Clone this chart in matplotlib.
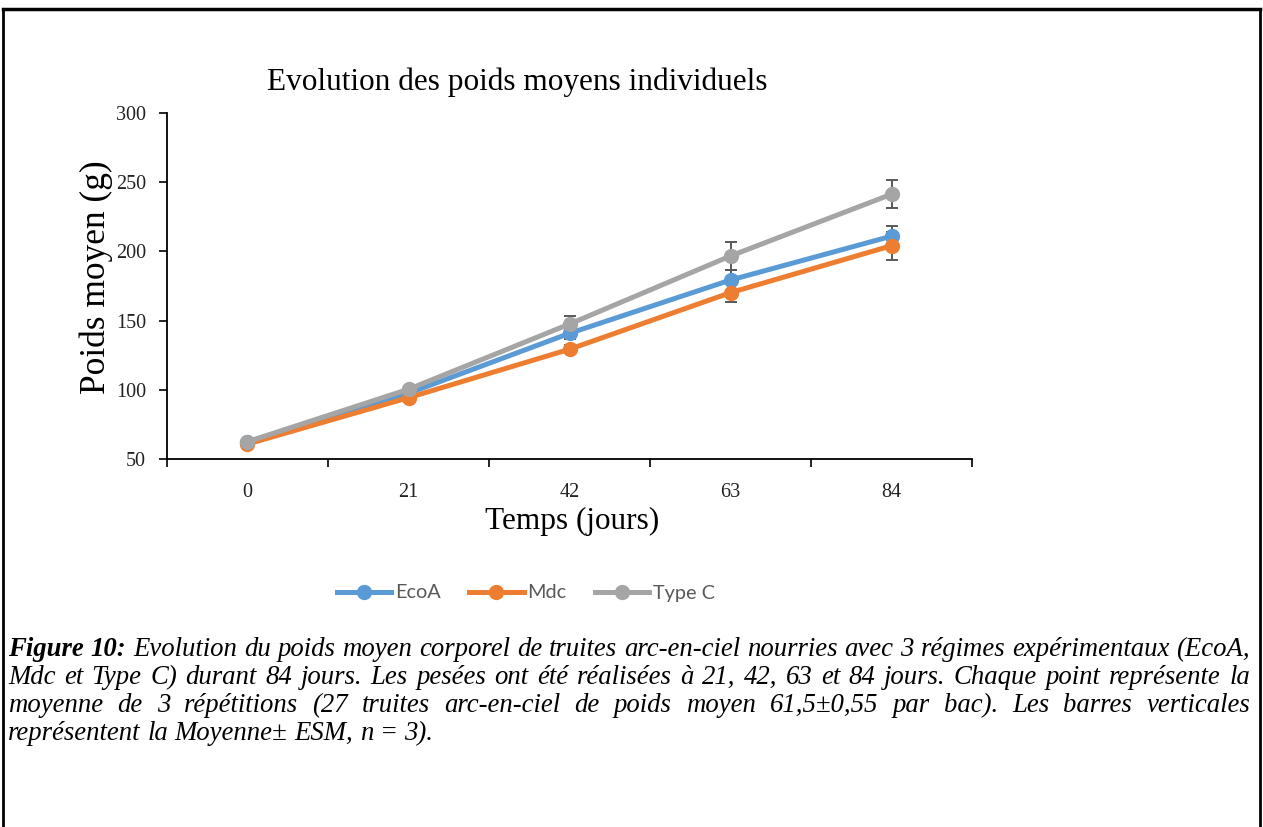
import matplotlib
matplotlib.use("Agg")
import matplotlib.pyplot as plt
from matplotlib.lines import Line2D
from matplotlib.ticker import FixedLocator, NullFormatter

# --- Data ------------------------------------------------------------------
days = ["0", "21", "42", "63", "84"]

ecoa = [62.0, 97.5, 140.8, 179.3, 211.0]
ecoa_err = [0.5, 1.5, 4.0, 7.0, 7.0]

mdc = [60.8, 94.3, 129.3, 170.2, 204.1]
mdc_err = [0.5, 1.0, 3.0, 6.5, 10.0]

type_c = [62.5, 100.4, 147.5, 196.7, 241.3]
type_c_err = [0.5, 1.5, 6.0, 10.0, 10.0]

series = [
    ("EcoA", ecoa, ecoa_err, "#5B9BD5"),
    ("Mdc", mdc, mdc_err, "#ED7D31"),
    ("Type C", type_c, type_c_err, "#A5A5A5"),
]

caption_lines = [
    "Evolution du poids moyen corporel de truites arc-en-ciel nourries avec 3 régimes expérimentaux (EcoA,",
    "Mdc et Type C) durant 84 jours. Les pesées ont été réalisées à 21, 42, 63 et 84 jours. Chaque point représente la",
    "moyenne de 3 répétitions (27 truites arc-en-ciel de poids moyen 61,5±0,55 par bac). Les barres verticales",
    "représentent la Moyenne± ESM, n = 3).",
]

W, H = 1263, 827
SERIF = "Liberation Serif"


def fx(x):
    return x / W


def fy(y):
    return 1 - y / H


fig = plt.figure(figsize=(W / 100, H / 100), dpi=100)
fig.patch.set_facecolor("white")

ax = fig.add_axes([fx(167), fy(459), fx(972) - fx(167), fy(113) - fy(459)])

pos = list(range(len(days)))
handles = []
for name, vals, err, color in series:
    ax.errorbar(pos, vals, yerr=err, fmt="none", ecolor="#595959",
                elinewidth=1.4, capsize=4.5, capthick=1.4, zorder=2)
    (ln,) = ax.plot(pos, vals, color=color, lw=3.6, marker="o", ms=10,
                    label=name, zorder=3)
    handles.append(ln)

ax.set_xlim(-0.5, len(days) - 0.5)
ax.set_ylim(50, 300)
ax.set_yticks([50, 100, 150, 200, 250, 300])

# category axis: ticks between categories, labels at the centres
ax.xaxis.set_major_locator(FixedLocator([p - 0.5 for p in range(len(days) + 1)]))
ax.xaxis.set_major_formatter(NullFormatter())
ax.xaxis.set_minor_locator(FixedLocator(pos))
ax.set_xticklabels(days, minor=True)
ax.tick_params(axis="x", which="major", length=6, width=1.2, direction="out")
ax.tick_params(axis="x", which="minor", length=0, pad=17)
ax.tick_params(axis="y", length=6, width=1.2, direction="out", pad=9)

for lab in ax.get_xticklabels(minor=True) + ax.get_yticklabels():
    lab.set_fontfamily(SERIF)
    lab.set_fontsize(14.5)
    lab.set_color("#222222")

for side in ["top", "right"]:
    ax.spines[side].set_visible(False)
for side in ["left", "bottom"]:
    ax.spines[side].set_linewidth(1.3)

fig.text(fx(517), fy(82), "Evolution des poids moyens individuels",
         family=SERIF, fontsize=22.5, ha="center", va="center")
fig.text(fx(96), fy(277), "Poids moyen (g)", family=SERIF, fontsize=25.5,
         rotation=90, ha="center", va="center")
fig.text(fx(572), fy(521), "Temps (jours)", family=SERIF, fontsize=22.5,
         ha="center", va="center")

leg = fig.legend(handles=handles, loc="center", bbox_to_anchor=(fx(526), fy(593)),
                 ncol=3, frameon=False, handlelength=2.75, handletextpad=0.2,
                 columnspacing=1.4, prop={"family": "Lato", "size": 14.3})
for t in leg.get_texts():
    t.set_color("#595959")

# --- Caption, justified like the source document ------------------------
renderer = fig.canvas.get_renderer()
left, right = 8, 1250
baselines = [656, 684, 712, 740]
cap_size = 19.3


def text_width(s, **kw):
    t = fig.text(0, 0, s, family=SERIF, style="italic", fontsize=cap_size, **kw)
    w = t.get_window_extent(renderer).width
    t.remove()
    return w


space_w = text_width("a b") - text_width("ab")

for i, (line, yb) in enumerate(zip(caption_lines, baselines)):
    tokens = [(w, "normal") for w in line.split(" ")]
    if i == 0:
        tokens = [("Figure", "bold"), ("10:", "bold")] + tokens
    artists = []
    for w, weight in tokens:
        t = fig.text(0, fy(yb), w, family=SERIF, style="italic", weight=weight,
                     fontsize=cap_size, ha="left", va="baseline")
        artists.append(t)
    widths = [a.get_window_extent(renderer).width for a in artists]
    if i < len(caption_lines) - 1:
        gap = (right - left - sum(widths)) / (len(widths) - 1)
    else:
        gap = space_w
    x = left
    for a, wd in zip(artists, widths):
        a.set_x(fx(x))
        x += wd + gap

# page frame around the figure block
fig.add_artist(Line2D([fx(3), fx(3)], [0, fy(9)], color="black", lw=2))
fig.add_artist(Line2D([fx(1260), fx(1260)], [0, fy(9)], color="black", lw=2))
fig.add_artist(Line2D([fx(3), fx(1260)], [fy(9), fy(9)], color="black", lw=2.5))

fig.savefig("out.png", dpi=100)
